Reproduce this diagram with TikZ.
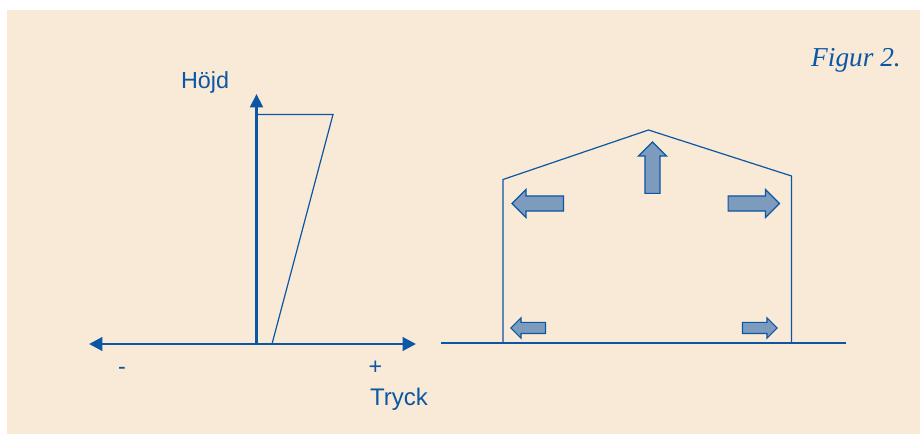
\documentclass[tikz,border=0pt]{standalone}
\usepackage{fontspec}
\setmainfont{Liberation Sans}
\newfontfamily\figfont{Liberation Serif}
\usetikzlibrary{shapes.arrows,arrows.meta}
\definecolor{panel}{HTML}{F9E9D7}
\definecolor{inkblue}{HTML}{0B57A4}
\definecolor{fillblue}{HTML}{7D9BBD}
\tikzset{
  x=0.75pt,y=-0.75pt,
  thinline/.style={draw=inkblue,line width=0.9pt},
  axisline/.style={draw=inkblue,line width=2.2pt,{Triangle[length=10pt,width=10pt]}-{Triangle[length=10pt,width=10pt]}},
  upaxis/.style={draw=inkblue,line width=2.2pt,-{Triangle[length=10pt,width=9.5pt]}},
  label/.style={text=inkblue,font=\fontsize{17.5}{20}\selectfont,inner sep=0pt},
  bigarrow/.style={single arrow,draw=inkblue,fill=fillblue,line width=0.9pt,inner xsep=0pt,inner ysep=5.2pt,
    minimum height=38.5pt,minimum width=20pt,single arrow head extend=4.8pt,
    single arrow tip angle=90},
  smallarrow/.style={bigarrow,inner ysep=3.75pt,minimum height=26pt,minimum width=14.25pt,single arrow head extend=3.4pt}
}
\begin{document}
\begin{tikzpicture}
\useasboundingbox (0,0) rectangle (920,434);
\fill[white] (0,0) rectangle (920,434);
\fill[panel] (7,10) rectangle (920,434);
% left chart
\coordinate (origin) at (256.5,344);
\coordinate (axisleft) at (89,344);
\coordinate (axisright) at (416,344);
\coordinate (axistop) at (256.5,94);
\coordinate (loadtop) at (256.5,114.5);
\coordinate (loadright) at (333,114.5);
\coordinate (loadbottom) at (272,344);
\draw[axisline] (axisleft) -- (axisright);
\draw[upaxis] (origin) -- (axistop);
\draw[thinline] (loadtop) -- (loadright) -- (loadbottom);
\node[label] (hojd) at (205,82) {Höjd};
\node[label] (minus) at (122,371) {-};
\node[label] (plus) at (375.5,368) {+};
\node[label,font=\fontsize{18}{20}\selectfont] (tryck) at (399,399) {Tryck};
\node[text=inkblue,font=\figfont\itshape\fontsize{20.5}{22}\selectfont,inner sep=0pt] (figur) at (856,60) {Figur 2.};
% building
\coordinate (groundl) at (441,343);
\coordinate (groundr) at (846,343);
\coordinate (wallbl) at (503,343);
\coordinate (walltl) at (503,179.5);
\coordinate (ridge) at (648.5,130);
\coordinate (walltr) at (791.5,176);
\coordinate (wallbr) at (791.5,343);
\draw[thinline] (groundl) -- (groundr);
\draw[thinline] (wallbl) -- (walltl) -- (ridge) -- (walltr) -- (wallbr);
\node[bigarrow,rotate=180] (a1) at (541.5,203.5) {};
\node[bigarrow] (a2) at (750,203.5) {};
\node[bigarrow,rotate=90] (a3) at (652.5,171.5) {};
\node[smallarrow,rotate=180] (a4) at (531,328) {};
\node[smallarrow] (a5) at (757,328) {};
\end{tikzpicture}
\end{document}
